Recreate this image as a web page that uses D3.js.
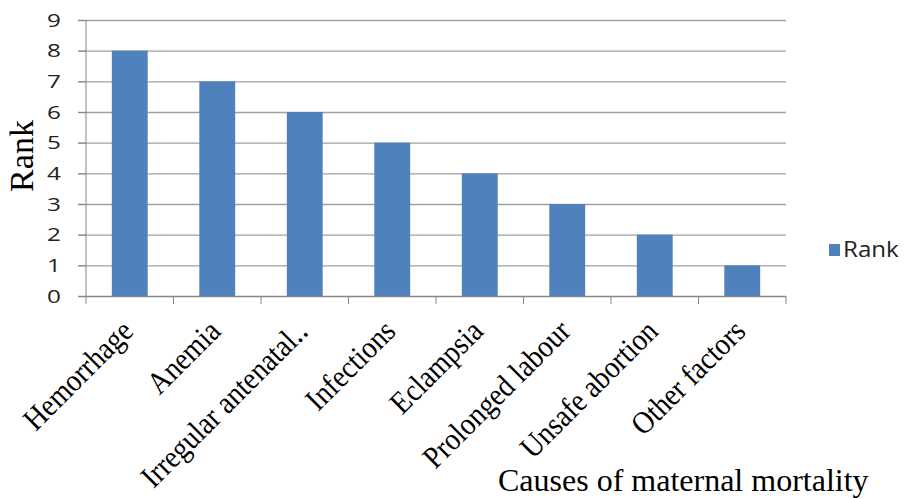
<!DOCTYPE html>
<html><head><meta charset="utf-8">
<script src="https://cdn.jsdelivr.net/npm/d3@7"></script>
<style>body{margin:0;background:#fff}svg{display:block}</style>
</head><body>
<svg id="c" width="905" height="499"></svg>
<script>
const categories = ["Hemorrhage","Anemia","Irregular antenatal\u2025","Infections","Eclampsia","Prolonged labour","Unsafe abortion","Other factors"];
const rankValues = [8,7,6,5,4,3,2,1];
const yTicks = [0,1,2,3,4,5,6,7,8,9];
const seriesName = "Rank";
const xTitle = "Causes of maternal mortality";
const yTitle = "Rank";

(function(){
const svg = d3.select("#c");
const pL = 86, pR = 786, pT = 20, pB = 296;
const x = d3.scaleBand().domain(categories).range([pL, pR]).padding(0);
const y = d3.scaleLinear().domain([0, 9]).range([pB, pT]);
const axisColor = "#868686", gridColor = "#a0a0a0", barColor = "#4f81bd";
const serif = "'Liberation Serif', 'Times New Roman', serif";

// gridlines
svg.append("g").selectAll("line").data(yTicks.filter(d => d > 0)).join("line")
  .attr("x1", pL - 8).attr("x2", pR)
  .attr("y1", d => y(d) + 0.5).attr("y2", d => y(d) + 0.5)
  .attr("stroke", gridColor).attr("stroke-width", 1.3);

// bars
const bw = x.bandwidth() * 0.41;
svg.append("g").selectAll("rect").data(categories).join("rect")
  .attr("x", (d) => x(d) + x.bandwidth() / 2 - bw / 2)
  .attr("y", (d, i) => y(rankValues[i]))
  .attr("width", bw)
  .attr("height", (d, i) => y(0) - y(rankValues[i]))
  .attr("fill", barColor);

// y axis
const yAxis = d3.axisLeft(y).tickValues(yTicks).tickSize(8).tickPadding(17).tickFormat(d3.format("d"));
const gy = svg.append("g").attr("transform", `translate(${pL},0)`).call(yAxis);
gy.select(".domain").attr("stroke", axisColor).attr("d", `M0,${pT}V${pB}`);
gy.selectAll(".tick line").attr("stroke", axisColor);
gy.selectAll(".tick text")
  .attr("font-family", "'Open Sans', sans-serif").attr("font-size", 18).attr("fill", "#222")
  .attr("dy", "0.35em")
  .each(function(){ const t = d3.select(this); const xx = +t.attr("x"); t.attr("transform", `translate(${xx},0) scale(1.35,1) translate(${-xx},0)`); });

// x axis
const gx = svg.append("g").attr("transform", `translate(0,${pB})`);
gx.append("line").attr("x1", pL - 8).attr("x2", pR).attr("y1", 0.5).attr("y2", 0.5).attr("stroke", axisColor).attr("stroke-width", 1.3);
const bounds = categories.map(d => x(d)).concat([pR]);
gx.selectAll("line.tk").data(bounds).join("line").attr("class", "tk")
  .attr("x1", d => d).attr("x2", d => d).attr("y1", 0).attr("y2", 8).attr("stroke", axisColor);
gx.selectAll("text").data(categories).join("text")
  .attr("transform", d => `translate(${x(d) + x.bandwidth() / 2 + 5},${37}) rotate(-45) scale(1,1.12)`)
  .attr("text-anchor", "end")
  .attr("font-family", serif).attr("font-size", 28).attr("fill", "#000")
  .text(d => d);

// titles
svg.append("text").attr("x", 498).attr("y", 491)
  .attr("font-family", serif).attr("font-size", 32).attr("fill", "#000")
  .text(xTitle);
svg.append("text").attr("transform", "translate(33,156) rotate(-90)").attr("text-anchor", "middle")
  .attr("font-family", serif).attr("font-size", 34).attr("fill", "#000")
  .text(yTitle);

// legend
const lg = svg.append("g").attr("transform", "translate(829,244)");
lg.append("rect").attr("width", 11).attr("height", 12).attr("fill", barColor);
lg.append("text").attr("transform", "translate(14,13) scale(1.15,1)").attr("font-family", "'Open Sans', sans-serif").attr("font-size", 21).attr("fill", "#222").text(seriesName);
})();
</script>
</body></html>
